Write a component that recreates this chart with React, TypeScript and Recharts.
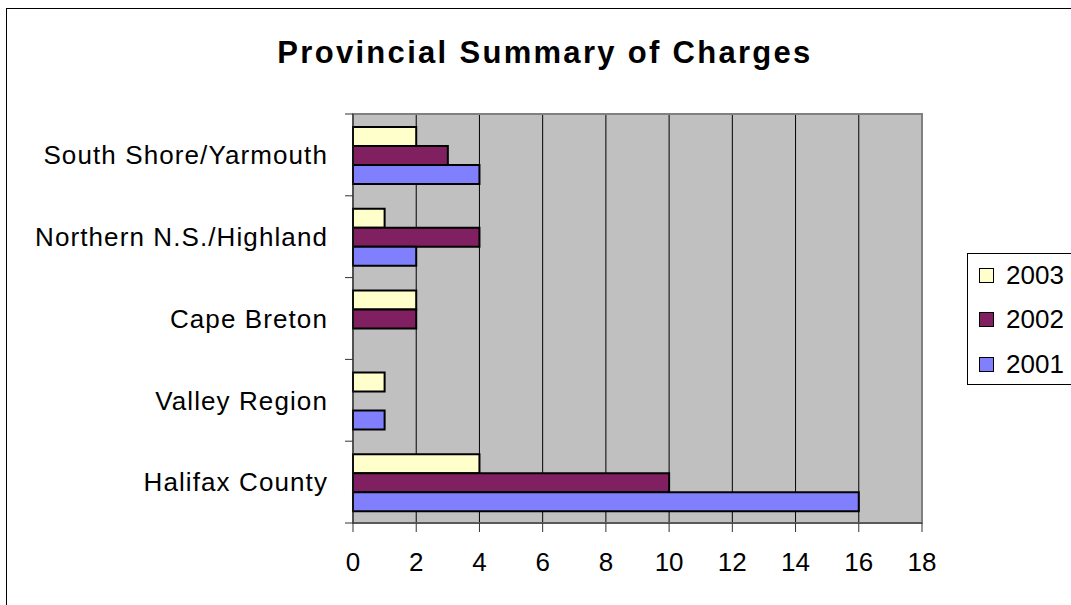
import { BarChart, Bar, XAxis, YAxis, CartesianGrid, ReferenceArea } from "recharts";

const categories = [
  "South Shore/Yarmouth",
  "Northern N.S./Highland",
  "Cape Breton",
  "Valley Region",
  "Halifax County",
];
const charges2003 = [2, 1, 2, 1, 4];
const charges2002 = [3, 4, 2, 0, 10];
const charges2001 = [4, 2, 0, 1, 16];
const xTicks = [0, 2, 4, 6, 8, 10, 12, 14, 16, 18];

const series = [
  { key: "y2003", name: "2003", color: "#FFFFCC" },
  { key: "y2002", name: "2002", color: "#802060" },
  { key: "y2001", name: "2001", color: "#8080FF" },
];

const data = categories.map((region, i) => ({
  region,
  y2003: charges2003[i],
  y2002: charges2002[i],
  y2001: charges2001[i],
}));

const FONT = '"Liberation Sans", Arial, sans-serif';
const PLOT_TOP = 114;
const PLOT_BOTTOM = 523;

function CategoryTick(props: any) {
  const { x, y, payload, index } = props;
  const half = (PLOT_BOTTOM - PLOT_TOP) / categories.length / 2;
  return (
    <g>
      <text
        x={x - 25}
        y={y}
        dy="0.355em"
        textAnchor="end"
        fontSize={26}
        fill="#000"
        style={{ letterSpacing: "1.1px", fontFamily: FONT }}
      >
        {payload.value}
      </text>
      <line x1={x - 8} x2={x} y1={y - half} y2={y - half} stroke="#333" />
      {index === categories.length - 1 && (
        <line x1={x - 8} x2={x} y1={y + half} y2={y + half} stroke="#333" />
      )}
    </g>
  );
}

export default function App() {
  return (
    <div
      style={{
        position: "absolute",
        left: 0,
        top: 0,
        width: 1071,
        height: 605,
        overflow: "hidden",
        background: "#fff",
        fontFamily: FONT,
      }}
    >
      <div
        style={{
          position: "absolute",
          left: 6,
          top: 8,
          width: 1100,
          height: 620,
          border: "1px solid #000",
        }}
      />
      <div
        style={{
          position: "absolute",
          left: 0,
          top: 37,
          width: 1090,
          textAlign: "center",
          fontSize: 31,
          lineHeight: "31px",
          fontWeight: "bold",
          letterSpacing: "2.3px",
        }}
      >
        Provincial Summary of Charges
      </div>
      <div style={{ position: "absolute", left: 0, top: 0 }}>
        <BarChart
          width={1071}
          height={605}
          data={data}
          layout="vertical"
          margin={{ top: PLOT_TOP, right: 149, bottom: 22, left: 13 }}
          barCategoryGap={13}
          barGap={0}
        >
          <CartesianGrid horizontal={false} stroke="#000" fill="#C0C0C0" fillOpacity={1} />
          <ReferenceArea x1={0} x2={18} fill="none" stroke="#808080" strokeWidth={2} ifOverflow="visible" />
          <XAxis
            type="number"
            domain={[0, 18]}
            ticks={xTicks}
            interval={0}
            height={60}
            tickSize={9}
            tickMargin={21}
            axisLine={{ stroke: "#333" }}
            tickLine={{ stroke: "#333" }}
            tick={{ fill: "#000", fontSize: 26, fontFamily: FONT }}
          />
          <YAxis
            type="category"
            dataKey="region"
            width={340}
            tickSize={0}
            tickMargin={0}
            interval={0}
            axisLine={{ stroke: "#222" }}
            tickLine={false}
            tick={<CategoryTick />}
          />
          {series.map((s) => (
            <Bar
              key={s.key}
              dataKey={s.key}
              fill={s.color}
              stroke="#000"
              strokeWidth={2}
              isAnimationActive={false}
            />
          ))}
        </BarChart>
      </div>
      <div
        style={{
          position: "absolute",
          left: 967,
          top: 253,
          width: 200,
          height: 130,
          border: "1px solid #000",
        }}
      >
        {series.map((s, i) => (
          <div
            key={s.key}
            style={{
              position: "absolute",
              left: 11,
              top: 6 + i * 44.5,
              height: 30,
              display: "flex",
              alignItems: "center",
              fontSize: 26,
            }}
          >
            <span
              style={{
                display: "inline-block",
                width: 13,
                height: 13,
                background: s.color,
                border: "1px solid #000",
                marginRight: 12,
              }}
            />
            <span>{s.name}</span>
          </div>
        ))}
      </div>
    </div>
  );
}
